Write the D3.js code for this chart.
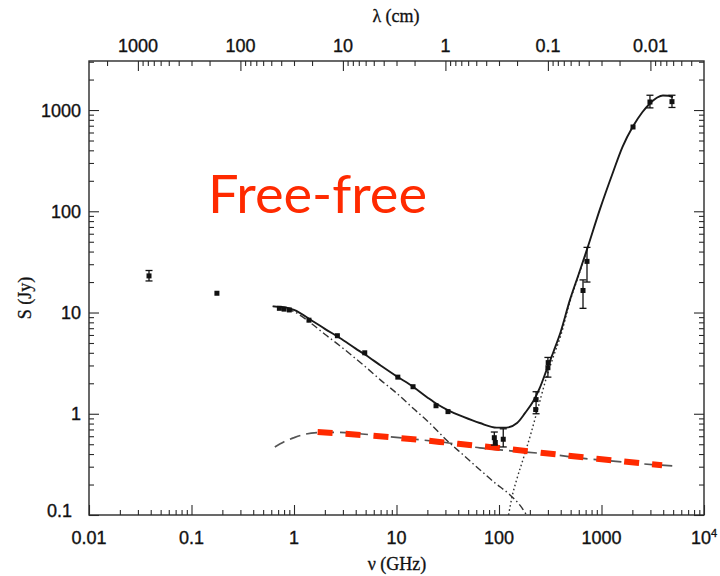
<!DOCTYPE html>
<html><head><meta charset="utf-8">
<script src="https://cdn.jsdelivr.net/npm/d3@7"></script>
<style>html,body{margin:0;padding:0;background:#fff;}</style>
</head><body>
<svg id="chart" width="720" height="576"></svg>
<script>
// ---- data ----
const obsNu = [0.0385, 0.177, 0.72, 0.80, 0.90, 1.40, 2.65, 4.9, 10.3, 14.5, 24.3, 31.8, 90, 92, 110, 230, 228, 300, 302, 660, 722, 2030, 2970, 4870];
const obsS  = [23, 15.5, 11.0, 10.8, 10.6, 8.4, 5.9, 4.0, 2.3, 1.85, 1.2, 1.05, 0.58, 0.52, 0.56, 1.38, 1.1, 2.85, 3.2, 16.5, 32, 680, 1200, 1210];
const errNu = [0.0385, 90, 110, 230, 300, 660, 722, 2970, 4870];
const errLo = [20.5, 0.49, 0.47, 1.0, 2.3, 11, 20, 1050, 1060];
const errHi = [26, 0.66, 0.71, 1.65, 3.6, 21, 44, 1400, 1400];

const totalNu = [0.62, 0.8, 1.0, 1.5, 2.0, 2.8, 4, 5, 7, 10, 14.5, 20, 25, 32, 45, 65, 95, 118, 150, 180, 215, 250, 292, 340, 398, 493, 600, 722, 966, 1295, 1600, 2030, 2500, 2970, 3500, 3980, 4500, 4970];
const totalS  = [11.5, 11.3, 10.6, 8.3, 6.9, 5.6, 4.4, 3.8, 3.0, 2.35, 1.85, 1.45, 1.24, 1.08, 0.93, 0.81, 0.73, 0.73, 0.81, 1.02, 1.32, 1.8, 2.73, 4.1, 6.34, 13.4, 24, 42, 105, 243, 430, 690, 950, 1160, 1330, 1390, 1385, 1340];

const syncNu = [0.62, 0.8, 1.0, 1.5, 2.0, 2.8, 4, 5, 7, 10, 15, 20, 32, 45, 65, 90, 128, 160, 186];
const syncS  = [11.5, 11.1, 10.2, 7.7, 6.1, 4.7, 3.5, 2.9, 2.15, 1.6, 1.1, 0.85, 0.53, 0.39, 0.28, 0.21, 0.158, 0.125, 0.1];

const dustNu = [124, 134, 150, 171, 206, 233, 292, 340, 398, 493, 600, 722];
const dustS  = [0.1, 0.151, 0.23, 0.35, 0.65, 1.02, 2.32, 3.7, 5.8, 12.9, 23.5, 41];

const ffNu = [0.65, 0.8, 1.0, 1.3, 1.7, 2.5, 4, 7, 15, 30, 65, 130, 300, 700, 1300, 2500, 4990];
const ffS  = [0.47, 0.53, 0.58, 0.63, 0.65, 0.655, 0.64, 0.605, 0.56, 0.52, 0.46, 0.43, 0.40, 0.36, 0.34, 0.32, 0.305];

const redNu = [1.7, 10, 40, 100, 270, 900, 3900];
const redS  = [0.66, 0.58, 0.505, 0.46, 0.41, 0.36, 0.31];

const xMajor = [0.01, 0.1, 1, 10, 100, 1000, 10000];
const xLabels = ["0.01", "0.1", "1", "10", "100", "1000", "10^4"];
const yMajor = [0.1, 1, 10, 100, 1000];
const yLabels = ["0.1", "1", "10", "100", "1000"];
const lamMajor = [1000, 100, 10, 1, 0.1, 0.01];
const lamLabels = ["1000", "100", "10", "1", "0.1", "0.01"];

// ---- scales ----
const svg = d3.select("#chart");
const L = 89, R = 704, T = 61, B = 515;
const x = d3.scaleLog().domain([0.01, 1e4]).range([L, R]);
const y = d3.scaleLog().domain([0.1, 3050]).range([B, T]);
const lam = d3.scaleLog().domain([3000, 0.003]).range([L, R]);

function minors(lo, hi) {
  const out = [];
  for (let e = -4; e <= 5; e++) for (let k = 2; k <= 9; k++) {
    const v = k * Math.pow(10, e);
    if (v > lo * 1.0001 && v < hi * 0.9999) out.push(v);
  }
  return out;
}
const ink = "#2a2a2a";
const tickFont = "'Liberation Sans', Arial, sans-serif";

function axisDraw(gen, transform) {
  const g = svg.append("g").attr("transform", transform).call(gen);
  g.select(".domain").remove();
  g.selectAll("line").attr("stroke", ink).attr("stroke-width", 1.1);
  g.selectAll("text").remove();
  return g;
}
axisDraw(d3.axisBottom(x).tickValues(xMajor).tickSize(-10), `translate(0,${B})`);
axisDraw(d3.axisBottom(x).tickValues(minors(0.01, 1e4)).tickSize(-5), `translate(0,${B})`);
axisDraw(d3.axisTop(lam).tickValues(lamMajor).tickSize(-10), `translate(0,${T})`);
axisDraw(d3.axisTop(lam).tickValues(minors(0.003, 3000)).tickSize(-5), `translate(0,${T})`);
axisDraw(d3.axisLeft(y).tickValues(yMajor).tickSize(-10), `translate(${L},0)`);
axisDraw(d3.axisLeft(y).tickValues(minors(0.1, 3050)).tickSize(-5), `translate(${L},0)`);
axisDraw(d3.axisRight(y).tickValues(yMajor).tickSize(-10), `translate(${R},0)`);
axisDraw(d3.axisRight(y).tickValues(minors(0.1, 3050)).tickSize(-5), `translate(${R},0)`);

svg.append("rect").attr("x", L).attr("y", T).attr("width", R - L).attr("height", B - T)
  .attr("fill", "none").attr("stroke", ink).attr("stroke-width", 1.4);

// tick labels
const bl = svg.append("g").attr("font-family", tickFont).attr("font-size", 18).attr("fill", "#111")
  .attr("stroke", "#111").attr("stroke-width", 0.35);
xMajor.forEach((v, i) => {
  const t = bl.append("text").attr("x", x(v)).attr("y", 544).attr("text-anchor", "middle");
  if (xLabels[i] === "10^4") {
    t.append("tspan").text("10");
    t.append("tspan").attr("dy", -7).attr("font-size", 11).text("4");
  } else t.text(xLabels[i]);
});
yMajor.forEach((v, i) => {
  const yy = v === 0.1 ? y(v) + 2 : y(v) + 6.5;
  bl.append("text").attr("x", v === 0.1 ? 72 : 81).attr("y", yy).attr("text-anchor", "end").text(yLabels[i]);
});
lamMajor.forEach((v, i) => {
  bl.append("text").attr("x", lam(v)).attr("y", 52).attr("text-anchor", "middle").text(lamLabels[i]);
});

// axis titles
const serif = "'Liberation Serif', 'DejaVu Serif', serif";
const titles = svg.append("g").attr("font-family", serif).attr("font-size", 18).attr("fill", "#111")
  .attr("stroke", "#111").attr("stroke-width", 0.3).attr("text-anchor", "middle");
titles.append("text").attr("x", 396).attr("y", 22).text("λ (cm)");
titles.append("text").attr("x", 397).attr("y", 570).text("ν (GHz)");
titles.append("text").attr("transform", "translate(31,298) rotate(-90)").text("S (Jy)");

// curves
const line = d3.line().x(d => x(d[0])).y(d => y(d[1])).curve(d3.curveMonotoneX);
const zip = (a, b) => a.map((v, i) => [v, b[i]]);
const plot = svg.append("g").attr("fill", "none");
plot.append("path").attr("d", line(zip(ffNu, ffS))).attr("stroke", "#555").attr("stroke-width", 1.7).attr("stroke-dasharray", "11,6");
plot.append("path").attr("d", line(zip(syncNu, syncS))).attr("stroke", "#333").attr("stroke-width", 1.4).attr("stroke-dasharray", "7,3,1.5,3");
plot.append("path").attr("d", line(zip(dustNu, dustS))).attr("stroke", "#333").attr("stroke-width", 1.4).attr("stroke-dasharray", "1.6,2.6");
plot.append("path").attr("d", line(zip(totalNu, totalS))).attr("stroke", "#1a1a1a").attr("stroke-width", 1.9);
plot.append("path").attr("d", line(zip(redNu, redS))).attr("stroke", "#ff2a00").attr("stroke-width", 6).attr("stroke-dasharray", "15,13");

// error bars
const eb = svg.append("g").attr("stroke", "#111").attr("stroke-width", 1.3);
errNu.forEach((v, i) => {
  const cx = x(v);
  eb.append("line").attr("x1", cx).attr("x2", cx).attr("y1", y(errLo[i])).attr("y2", y(errHi[i]));
  eb.append("line").attr("x1", cx - 3.5).attr("x2", cx + 3.5).attr("y1", y(errLo[i])).attr("y2", y(errLo[i]));
  eb.append("line").attr("x1", cx - 3.5).attr("x2", cx + 3.5).attr("y1", y(errHi[i])).attr("y2", y(errHi[i]));
});
svg.append("g").selectAll("rect").data(zip(obsNu, obsS)).join("rect")
  .attr("x", d => x(d[0]) - 2.5).attr("y", d => y(d[1]) - 2.5).attr("width", 5).attr("height", 5).attr("fill", "#111");

// annotation
svg.append("text").attr("x", 208).attr("y", 213).attr("font-family", "Lato, 'Open Sans', sans-serif")
  .attr("font-size", 52).attr("fill", "#ff2a00").attr("textLength", 219).attr("lengthAdjust", "spacingAndGlyphs").text("Free-free");
</script>
</body></html>
